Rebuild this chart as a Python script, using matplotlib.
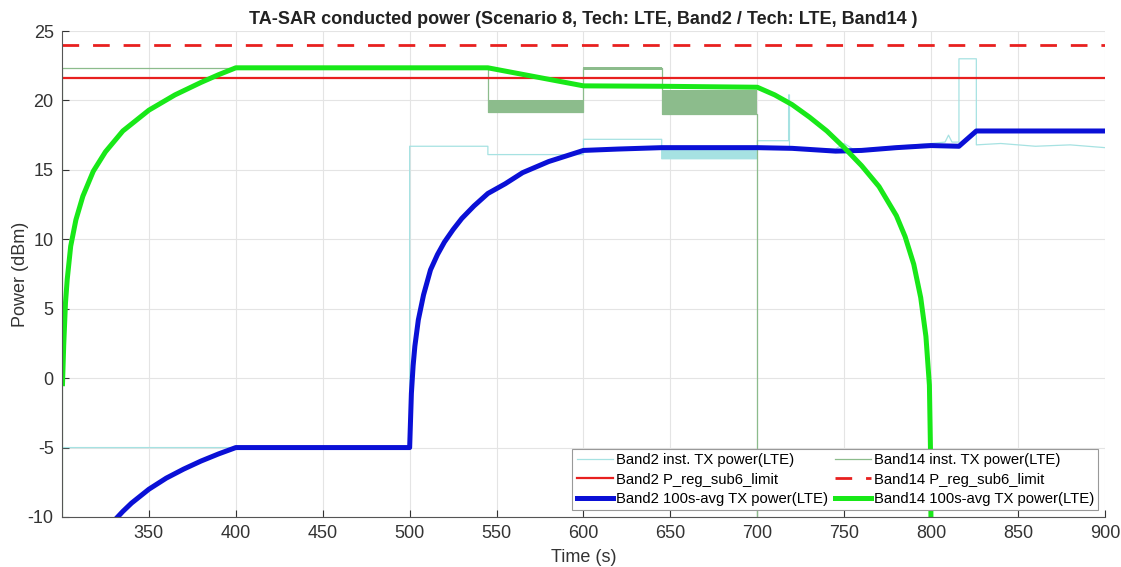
import matplotlib
matplotlib.use("Agg")
import matplotlib.pyplot as plt

# time (s) / power (dBm)
b2_inst_t = [300, 300, 500, 500, 545, 545, 600, 600, 645, 645, 700, 700, 718, 718,
             718.5, 718.5, 745, 750, 755, 760, 800, 808, 810, 812, 816, 816, 826, 826,
             840, 860, 880, 900]
b2_inst_p = [-20, -5.0, -5.0, 16.7, 16.7, 16.1, 16.1, 17.2, 17.2, 15.8, 15.8, 17.1, 17.1, 20.4,
             20.4, 16.5, 16.5, 16.9, 16.5, 16.5, 16.9, 17.0, 17.5, 17.0, 17.0, 23.0, 23.0, 16.8,
             16.9, 16.7, 16.8, 16.6]
b2_band_t = [645, 700]
b2_band_lo = [15.8, 15.8]
b2_band_hi = [16.6, 16.6]

b14_inst_t = [300, 300, 545, 545, 600, 600, 645, 645, 700, 700]
b14_inst_p = [-20, 22.35, 22.35, 19.15, 19.15, 22.35, 22.35, 19.0, 19.0, -30]
b14_band_t = [[545, 600], [600, 645], [645, 700]]
b14_band_lo = [19.15, 22.2, 19.0]
b14_band_hi = [20.05, 22.4, 20.75]

b2_limit = 21.6
b14_limit = 24.0

b2_avg_t = [332, 335, 340, 350, 360, 370, 380, 390, 400, 500, 501, 502, 503, 505, 508, 512,
            516, 520, 525, 530, 537, 545, 555, 565, 580, 590, 600, 620, 645, 700, 720, 745,
            760, 780, 800, 816, 826, 900]
b2_avg_p = [-10.0, -9.6, -9.0, -8.0, -7.2, -6.55, -5.97, -5.46, -5.0, -5.0, -1.1, 0.9, 2.3, 4.2,
            6.0, 7.8, 8.9, 9.8, 10.7, 11.5, 12.4, 13.3, 14.0, 14.8, 15.6, 16.0, 16.4, 16.5, 16.6,
            16.6, 16.55, 16.35, 16.4, 16.6, 16.75, 16.7, 17.8, 17.8]

b14_avg_t = [300.3, 301, 302, 303, 305, 308, 312, 318, 325, 335, 350, 365, 380, 390, 400,
             545, 600, 645, 700, 710, 720, 730, 740, 750, 760, 770, 780, 785, 790, 794, 797,
             799, 799.6, 800]
b14_avg_p = [-0.4, 2.4, 5.4, 7.1, 9.5, 11.4, 13.1, 14.9, 16.3, 17.8, 19.3, 20.4, 21.3, 21.85, 22.35,
             22.35, 21.05, 21.02, 20.95, 20.4, 19.7, 18.8, 17.8, 16.6, 15.3, 13.8, 11.7, 10.2,
             8.2, 5.8, 3.0, -0.5, -5.0, -12.0]

c_b2inst = "#a6e2e2"
c_b14inst = "#8cbc8c"
c_red = "#e8201f"
c_blue = "#0a10d6"
c_green = "#18e818"

plt.rcParams["font.family"] = ["Liberation Sans", "DejaVu Sans"]
plt.rcParams["axes.unicode_minus"] = False

fig = plt.figure(figsize=(11.21, 5.67), dpi=100)
ax = fig.add_axes([0.0553, 0.0882, 0.9304, 0.8571])

l1, = ax.plot(b2_inst_t, b2_inst_p, color=c_b2inst, lw=0.9, label="Band2 inst. TX power(LTE)")
ax.fill_between(b2_band_t, b2_band_lo, b2_band_hi, color=c_b2inst, lw=0)
l4, = ax.plot(b14_inst_t, b14_inst_p, color=c_b14inst, lw=0.9, label="Band14 inst. TX power(LTE)")
for t, lo, hi in zip(b14_band_t, b14_band_lo, b14_band_hi):
    ax.fill_between(t, [lo, lo], [hi, hi], color=c_b14inst, lw=0)

l2 = ax.axhline(b2_limit, color=c_red, lw=1.6, label="Band2 P_reg_sub6_limit")
l5 = ax.axhline(b14_limit, color=c_red, lw=2.0, dashes=(6, 5), label="Band14 P_reg_sub6_limit")

l3, = ax.plot(b2_avg_t, b2_avg_p, color=c_blue, lw=3.6, label="Band2 100s-avg TX power(LTE)")
l6, = ax.plot(b14_avg_t, b14_avg_p, color=c_green, lw=3.6, label="Band14 100s-avg TX power(LTE)")

ax.set_xlim(300, 900)
ax.set_ylim(-10, 25)
ax.set_xticks(range(350, 901, 50))
ax.set_yticks(range(-10, 26, 5))
ax.grid(True, color="#e4e4e4", lw=0.8)
ax.set_axisbelow(True)
for s in ["top", "right"]:
    ax.spines[s].set_visible(False)
for s in ["left", "bottom"]:
    ax.spines[s].set_color("#555555")
ax.tick_params(direction="in", length=5, labelsize=13, colors="#333333", pad=6)

ax.set_title("TA-SAR conducted power (Scenario 8, Tech: LTE, Band2 / Tech: LTE, Band14 )",
             fontsize=13, fontweight="bold", color="#222222", pad=5)
ax.set_xlabel("Time (s)", fontsize=13, color="#333333", labelpad=5)
ax.set_ylabel("Power (dBm)", fontsize=13, color="#333333", labelpad=-1)

leg = ax.legend([l1, l2, l3, l4, l5, l6],
                [h.get_label() for h in [l1, l2, l3, l4, l5, l6]],
                loc="lower right", ncol=2, fontsize=10.7, frameon=True, fancybox=False,
                framealpha=1, edgecolor="#999999", borderpad=0.3, labelspacing=0.35,
                handlelength=2.4, handletextpad=0.2, columnspacing=0.5, borderaxespad=0.45)
leg.get_frame().set_linewidth(0.8)

fig.savefig("out.png", dpi=100)
